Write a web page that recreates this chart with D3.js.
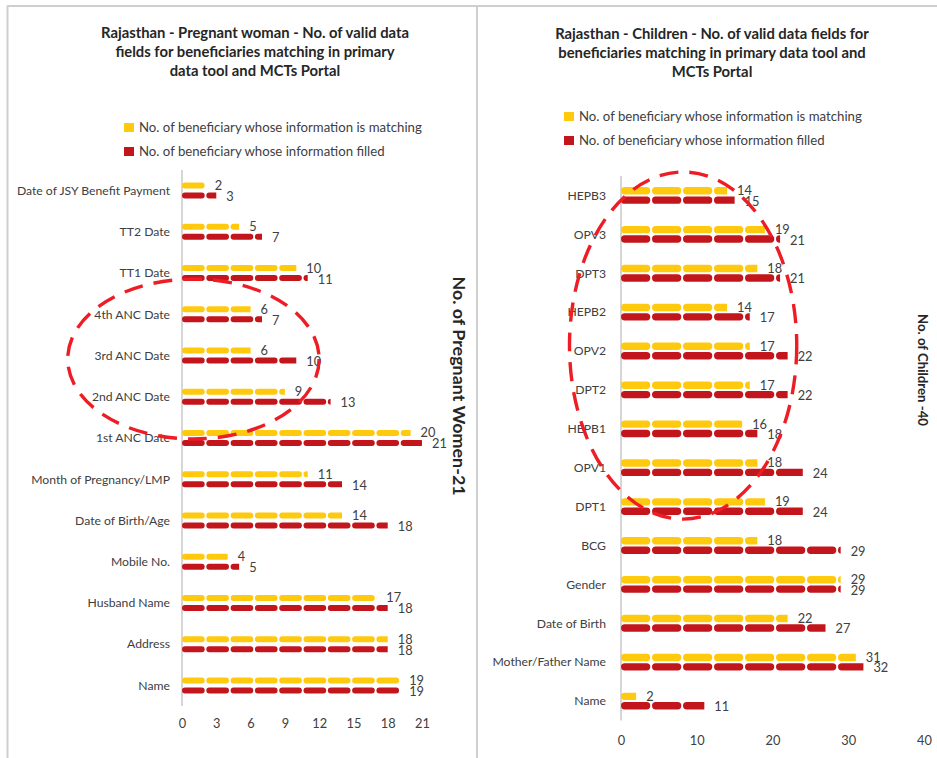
<!DOCTYPE html>
<html>
<head>
<meta charset="utf-8">
<script src="https://cdn.jsdelivr.net/npm/d3@7/dist/d3.min.js"></script>
<style>
  html, body { margin: 0; padding: 0; background: #ffffff; }
  svg { display: block; }
  .lbl { font-family: Lato, "Open Sans", sans-serif; fill: #404040; }
  .ttl { font-family: Lato, "Open Sans", sans-serif; font-weight: 700; fill: #262626; }
</style>
</head>
<body>
<svg id="chart" width="937" height="758"></svg>
<script>
// ---- Pregnant women panel data ----
const pwCategories = [
  "Date of JSY Benefit Payment", "TT2 Date", "TT1 Date", "4th ANC Date", "3rd ANC Date",
  "2nd ANC Date", "1st ANC Date", "Month of Pregnancy/LMP", "Date of Birth/Age",
  "Mobile No.", "Husband Name", "Address", "Name"
];
const pwMatching = [2, 5, 10, 6, 6, 9, 20, 11, 14, 4, 17, 18, 19];
const pwFilled   = [3, 7, 11, 7, 10, 13, 21, 14, 18, 5, 18, 18, 19];
const pwTicks = [0, 3, 6, 9, 12, 15, 18, 21];
const pwTitle = ["Rajasthan - Pregnant woman - No. of valid data",
                 "fields for beneficiaries matching in primary",
                 "data tool and MCTs Portal"];
const pwSideLabel = "No. of Pregnant Women-21";

// ---- Children panel data ----
const chCategories = [
  "HEPB3", "OPV3", "DPT3", "HEPB2", "OPV2", "DPT2", "HEPB1", "OPV1", "DPT1",
  "BCG", "Gender", "Date of Birth", "Mother/Father Name", "Name"
];
const chMatching = [14, 19, 18, 14, 17, 17, 16, 18, 19, 18, 29, 22, 31, 2];
const chFilled   = [15, 21, 21, 17, 22, 22, 18, 24, 24, 29, 29, 27, 32, 11];
const chTicks = [0, 10, 20, 30, 40];
const chTitle = ["Rajasthan - Children - No. of valid data fields for",
                 "beneficiaries matching in primary data tool and",
                 "MCTs Portal"];
const chSideLabel = "No. of Children -40";

const seriesNames = ["No. of beneficiary whose information is matching",
                     "No. of beneficiary whose information filled"];
const seriesColors = ["#ffc90e", "#c3161c"];

const svg = d3.select("#chart");

// panel frame
const frame = svg.append("g").attr("stroke", "#cfcfcf").attr("stroke-width", 2).attr("fill", "none");
frame.append("line").attr("x1", 7).attr("x2", 937).attr("y1", 6).attr("y2", 6);
frame.append("line").attr("x1", 7.5).attr("x2", 7.5).attr("y1", 6).attr("y2", 758);
frame.append("line").attr("x1", 477).attr("x2", 477).attr("y1", 6).attr("y2", 758);

const defs = svg.append("defs");
let clipId = 0;

function drawPanel(p) {
  const g = svg.append("g");
  const x = d3.scaleLinear().domain(p.domain).range(p.xRange);
  const y = d3.scaleBand().domain(p.categories).range(p.yRange);
  const step = y.bandwidth();

  // title
  p.title.forEach((t, i) => {
    g.append("text").attr("class", "ttl")
      .attr("x", p.titleX).attr("y", p.titleY + i * 19.2)
      .attr("text-anchor", "middle").style("font-size", p.titleSize + "px")
      .text(t);
  });

  // legend
  seriesNames.forEach((name, i) => {
    const ly = p.legendY + i * p.legendGap;
    g.append("rect").attr("x", p.legendX).attr("y", ly - 4.5)
      .attr("width", 10).attr("height", 9).attr("fill", seriesColors[i]);
    g.append("text").attr("class", "lbl")
      .attr("x", p.legendX + 15).attr("y", ly).attr("dy", "0.35em")
      .style("font-size", p.legendSize + "px").text(name);
  });

  // category axis line
  g.append("line")
    .attr("x1", x(0)).attr("x2", x(0))
    .attr("y1", p.yRange[0]).attr("y2", p.yRange[1])
    .attr("stroke", "#c8c8c8").attr("stroke-width", 1.5);

  // category labels
  g.selectAll("text.cat").data(p.categories).join("text")
    .attr("class", "lbl cat")
    .attr("x", x(0) - p.catGap)
    .attr("y", d => y(d) + step / 2).attr("dy", "0.35em")
    .attr("text-anchor", "end").style("font-size", p.catSize + "px")
    .text(d => d);

  // value axis (labels only)
  const axis = d3.axisBottom(x).tickValues(p.ticks).tickSize(0).tickPadding(0);
  const ag = g.append("g").attr("transform", `translate(0,${p.tickY})`).call(axis);
  ag.select(".domain").remove();
  ag.selectAll("text").attr("class", "lbl").attr("fill", null).attr("dy", "0.35em")
    .style("font-size", p.numSize + "px");

  // dashed rounded bars
  const series = [p.matching, p.filled];
  series.forEach((vals, s) => {
    vals.forEach((v, i) => {
      const cy = y(p.categories[i]) + step / 2;
      const top = s === 0 ? cy - p.barOffset - p.barH : cy + p.barOffset;
      const mid = top + p.barH / 2;
      const x0 = x(0), x1 = x(v);
      const id = "clip" + (clipId++);
      defs.append("clipPath").attr("id", id)
        .append("rect").attr("x", x0).attr("y", top - 1)
        .attr("width", x1 - x0).attr("height", p.barH + 2);
      g.append("line")
        .attr("clip-path", `url(#${id})`)
        .attr("x1", x0 + p.barH / 2).attr("x2", x1 + p.barH)
        .attr("y1", mid).attr("y2", mid)
        .attr("stroke", seriesColors[s]).attr("stroke-width", p.barH)
        .attr("stroke-linecap", "round")
        .attr("stroke-dasharray", `${p.dash - p.barH} ${p.gap + p.barH}`);
      g.append("text").attr("class", "lbl")
        .attr("x", x1 + 10).attr("y", mid + (s === 0 ? 0 : 1)).attr("dy", "0.35em")
        .style("font-size", p.numSize + "px").text(v);
    });
  });

  // highlight ellipse
  const e = p.highlight;
  const eTop = y(e.from) + step / 2 + e.padTop;
  const eBottom = y(e.to) + step / 2 + e.padBottom;
  g.append("ellipse")
    .attr("cx", x(e.cx)).attr("cy", (eTop + eBottom) / 2)
    .attr("rx", x(e.rx) - x(0)).attr("ry", (eBottom - eTop) / 2)
    .attr("fill", "none").attr("stroke", "#ee1c25").attr("stroke-width", 3.4)
    .attr("stroke-dasharray", "19 11");

  // side label
  g.append("text")
    .attr("class", "ttl")
    .attr("transform", `translate(${p.sideX},${p.sideY}) rotate(90)`)
    .attr("text-anchor", "middle").attr("dy", "0.35em")
    .style("font-size", p.sideSize + "px")
    .text(p.sideLabel);
}

drawPanel({
  categories: pwCategories, matching: pwMatching, filled: pwFilled, ticks: pwTicks,
  domain: [0, 21], xRange: [182, 422], yRange: [170, 706],
  title: pwTitle, titleX: 255, titleY: 38, titleSize: 14.8,
  catSize: 12.2, legendSize: 13.2, numSize: 12.8,
  legendX: 124, legendY: 127.5, legendGap: 24,
  catGap: 12, tickY: 724,
  barH: 6, barOffset: 2, dash: 22.7, gap: 1.6,
  highlight: { cx: 1, rx: 11, from: "TT1 Date", to: "1st ANC Date", padTop: 6, padBottom: 1 },
  sideLabel: pwSideLabel, sideX: 459, sideY: 386, sideSize: 17.9
});

drawPanel({
  categories: chCategories, matching: chMatching, filled: chFilled, ticks: chTicks,
  domain: [0, 40], xRange: [621, 924], yRange: [176, 720.5],
  title: chTitle, titleX: 712, titleY: 38.5, titleSize: 14.8,
  catSize: 12.2, legendSize: 13.2, numSize: 12.8,
  legendX: 564, legendY: 116.5, legendGap: 24,
  catGap: 15, tickY: 741,
  barH: 7.4, barOffset: 1, dash: 29.3, gap: 1.7,
  highlight: { cx: 8.2, rx: 15, from: "HEPB3", to: "DPT1", padTop: -23.5, padBottom: 12.5 },
  sideLabel: chSideLabel, sideX: 923, sideY: 370, sideSize: 13.2
});
</script>
</body>
</html>
